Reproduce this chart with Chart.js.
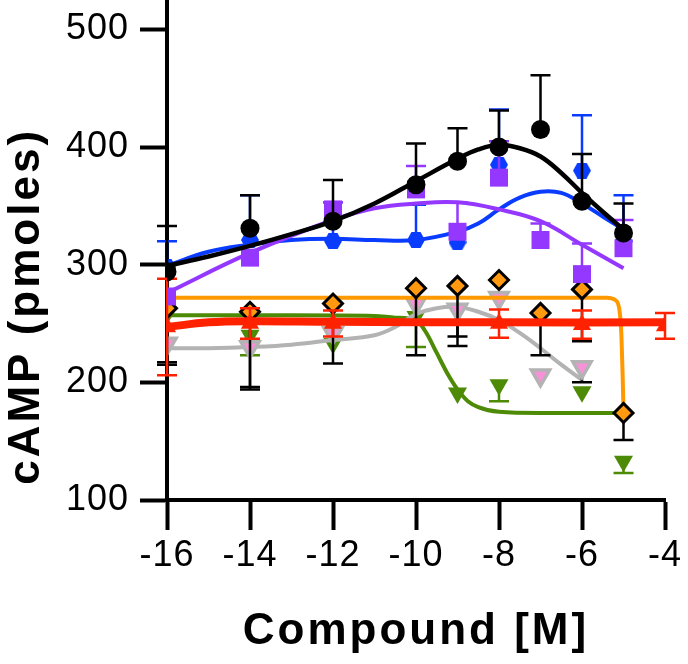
<!DOCTYPE html>
<html>
<head>
<meta charset="utf-8">
<script src="https://cdn.jsdelivr.net/npm/chart.js@4"></script>
<style>
  html, body { margin: 0; padding: 0; background: #fff; }
  #wrap { width: 688px; height: 664px; }
</style>
</head>
<body>
<div id="wrap"><canvas id="myChart" width="688" height="664"></canvas></div>
<script>
// measured points (log M vs cAMP)
var blackX = [-16, -14, -12, -10, -9, -8, -7, -6, -5];
var blackY = [294, 331, 337, 368, 388, 400, 415, 354, 327];
var blackErr = [39, 28, 35, 35, 28, 31, 46, 40, 25];

var blueX = [-16, -14, -12, -10, -9, -8, -6, -5];
var blueY = [298, 321, 320, 321, 319, 385, 380, 320];
var blueErr = [22, 38, 33, 30, 0, 47, 47, 39];

var purpleX = [-16, -14, -12, -10, -9, -8, -7, -6, -5];
var purpleY = [273, 306, 347, 364, 328, 374, 321, 292, 314];
var purpleErr = [0, 0, 6, 20, 25, 31, 14, 26, 24];

var diamondX = [-16, -14, -12, -10, -9, -8, -7, -6, -5];
var diamondY = [263, 260, 267, 280, 282, 287, 259, 279, 174];
var diamondErr = [48, 66, 51, 57, 51, 0, 36, 44, 23];

var grayX = [-16, -14, -12, -10, -9, -8, -7, -6];
var grayY = [233, 230, 242, 267, 262, 272, 206, 213];
var grayErr = [16, 34, 0, 0, 23, 0, 0, 13];

var greenX = [-16, -14, -12, -10, -9, -8, -6, -5];
var greenY = [258, 240, 233, 256, 191, 198, 192, 133];
var greenErr = [0, 17, 0, 26, 0, 14, 0, 10];

var redX = [-16, -14, -12, -8, -6, -4];
var redY = [247, 250, 250, 250, 249, 248];
var redErr = [41, 13, 11, 12, 12, 11];

// fitted curves
var blackCurveX = [-16, -15, -14, -13, -12, -11, -10, -9, -8.5, -8, -7.5, -7, -6.5, -6, -5.5, -5];
var blackCurveY = [299, 307, 316, 326, 337, 352, 371, 390, 398, 402, 399, 392, 378, 361, 345, 330];
var blueCurveX = [-16, -15, -14, -13, -12, -11, -10, -9, -8.5, -8, -7.5, -7, -6.5, -6, -5.5, -5];
var blueCurveY = [299, 311, 317, 321, 322, 321, 321, 328, 335, 347, 357, 362, 361, 352, 341, 330];
var purpleCurveX = [-16, -14, -12, -11, -10, -9, -8, -7, -6, -5];
var purpleCurveY = [276, 310, 338, 348, 352, 353, 347, 337, 317, 297];
var orangeCurveX = [-16, -12, -8, -6, -5.4, -5.2, -5.1, -5.05, -5.02, -5];
var orangeCurveY = [272, 272, 272, 272, 272, 270, 262, 240, 205, 175];
var greenCurveX = [-16, -13, -11, -10.5, -10, -9.75, -9.5, -9.25, -9, -8.75, -8.5, -8, -7, -6, -5];
var greenCurveY = [257, 257, 256.5, 255, 253, 242, 225, 208, 194, 184, 179, 175, 174, 174, 174];
var grayCurveX = [-16, -15, -14, -13, -12, -11, -10.5, -10, -9.5, -9, -8.5, -8, -7.5, -7, -6.5, -6];
var grayCurveY = [229, 229, 230, 232, 236, 240, 247, 258, 263, 264, 260, 253, 242, 229, 215, 202];
var redCurveX = [-16, -15, -14, -12, -8, -4];
var redCurveY = [247, 251, 252, 251.5, 251, 251];

var xTicks = [-16, -14, -12, -10, -8, -6, -4];
var yTicks = [100, 200, 300, 400, 500];

function pts(xs, ys) {
	return xs.map(function(x, i) { return {x: x, y: ys[i]}; });
}

function hexagon(color) {
	var c = document.createElement('canvas');
	c.width = 18; c.height = 16;
	var g = c.getContext('2d');
	g.fillStyle = color;
	g.beginPath();
	g.moveTo(0, 8); g.lineTo(4.5, 0); g.lineTo(13.5, 0);
	g.lineTo(18, 8); g.lineTo(13.5, 16); g.lineTo(4.5, 16);
	g.closePath();
	g.fill();
	return c;
}

function curve(xs, ys, color, width, order, mode) {
	return {
		data: pts(xs, ys), showLine: true, pointRadius: 0,
		borderColor: color, borderWidth: width, tension: 0.4,
		cubicInterpolationMode: mode || 'default', order: order
	};
}

function marks(xs, ys, opts, order) {
	var ds = {data: pts(xs, ys), showLine: false, order: order};
	for (var k in opts) ds[k] = opts[k];
	return ds;
}

var errorBars = {
	id: 'errorBars',
	beforeDatasetDraw: function(chart, args) {
		var ds = chart.data.datasets[args.index];
		if (!ds.errUp && !ds.errDown) return;
		var ctx = chart.ctx, xs = chart.scales.x, ys = chart.scales.y;
		ctx.save();
		ctx.strokeStyle = ds.errColor;
		ctx.lineWidth = 2.5;
		ds.data.forEach(function(p, i) {
			var px = xs.getPixelForValue(p.x);
			var py0 = ys.getPixelForValue(p.y);
			[[ds.errUp ? ds.errUp[i] : 0, 1], [ds.errDown ? ds.errDown[i] : 0, -1]].forEach(function(e) {
				if (!e[0]) return;
				var py1 = ys.getPixelForValue(p.y + e[1] * e[0]);
				ctx.beginPath();
				ctx.moveTo(px, py0); ctx.lineTo(px, py1);
				ctx.moveTo(px - 10, py1); ctx.lineTo(px + 10, py1);
				ctx.stroke();
			});
		});
		ctx.restore();
	}
};

// tick labels get a little tracking, titles a bit more (the original font is wide)
var spacing = {
	id: 'spacing',
	beforeDraw: function(chart) { chart.ctx.letterSpacing = '1px'; }
};

function wideTitle(s) {
	if (s._wide) return;
	s._wide = true;
	var orig = s.drawTitle;
	s.drawTitle = function() {
		this.ctx.save();
		this.ctx.letterSpacing = '3px';
		orig.apply(this, arguments);
		this.ctx.restore();
	};
}

var font = "'Liberation Sans', Arial, sans-serif";

var datasets = [
	marks(blackX, blackY, {pointStyle: 'circle', pointRadius: 9.5, backgroundColor: '#000', borderColor: '#000', borderWidth: 0,
		errUp: blackErr, errColor: '#000'}, 1),
	curve(blackCurveX, blackCurveY, '#000', 4.5, 2),
	marks(purpleX, purpleY, {pointStyle: 'rect', pointRadius: 12.7, backgroundColor: '#9438ff', borderWidth: 0,
		errUp: purpleErr, errColor: '#9438ff'}, 3),
	curve(purpleCurveX, purpleCurveY, '#9438ff', 4, 4),
	marks(blueX, blueY, {pointStyle: hexagon('#0a3cff'), pointRadius: 9,
		errUp: blueErr, errColor: '#0a3cff'}, 5),
	curve(blueCurveX, blueCurveY, '#0a3cff', 4, 6),
	marks(redX, redY, {pointStyle: 'triangle', pointRadius: 10.5, backgroundColor: '#ff2200', borderWidth: 0,
		errUp: redErr, errDown: redErr, errColor: '#ff2200'}, 7),
	curve(redCurveX, redCurveY, '#ff2200', 8, 8),
	marks(diamondX, diamondY, {pointStyle: 'rectRot', pointRadius: 9.5, backgroundColor: '#ff9a10', borderColor: '#000', borderWidth: 3,
		errDown: diamondErr, errColor: '#000'}, 9),
	curve(orangeCurveX, orangeCurveY, '#ff9900', 4, 10, 'monotone'),
	marks(grayX, grayY, {pointStyle: 'triangle', rotation: 180, pointRadius: 10.5, backgroundColor: '#f792d8', borderColor: '#b3b3b3', borderWidth: 3.5,
		errDown: grayErr, errColor: '#000'}, 11),
	curve(grayCurveX, grayCurveY, '#b3b3b3', 4, 12),
	marks(greenX, greenY, {pointStyle: 'triangle', rotation: 180, pointRadius: 11, backgroundColor: '#4d8a06', borderWidth: 0,
		errDown: greenErr, errColor: '#4d8a06'}, 13),
	curve(greenCurveX, greenCurveY, '#4d8a06', 4, 14, 'monotone')
];

new Chart(document.getElementById('myChart'), {
	type: 'scatter',
	data: {datasets: datasets},
	options: {
		responsive: false,
		animation: false,
		events: [],
		layout: {autoPadding: false, padding: {left: 0, right: 23, top: 0, bottom: 0}},
		plugins: {legend: {display: false}, tooltip: {enabled: false}},
		scales: {
			x: {
				type: 'linear', min: -16, max: -4,
				afterBuildTicks: function(s) { s.ticks = xTicks.map(function(v) { return {value: v}; }); },
				afterFit: function(s) { s.height = 164; s.paddingLeft = 0; s.paddingRight = 0; wideTitle(s); },
				border: {color: '#000', width: 4},
				grid: {drawOnChartArea: false, drawTicks: true, tickLength: 30, tickWidth: 4, tickColor: '#000'},
				ticks: {color: '#000', padding: 4, maxRotation: 0, autoSkip: false, font: {family: font, size: 36}},
				title: {display: true, text: 'Compound [M]', color: '#000', padding: {top: 0, bottom: 6},
					font: {family: font, size: 44, weight: 'bold'}}
			},
			y: {
				type: 'linear', min: 100, max: 525,
				afterBuildTicks: function(s) { s.ticks = yTicks.map(function(v) { return {value: v}; }); },
				afterFit: function(s) { s.width = 167; s.paddingTop = 0; s.paddingBottom = 0; wideTitle(s); },
				border: {color: '#000', width: 4},
				grid: {drawOnChartArea: false, drawTicks: true, tickLength: 27, tickWidth: 4, tickColor: '#000'},
				ticks: {color: '#000', padding: 11, font: {family: font, size: 36}},
				title: {display: true, text: ' cAMP (pmoles)', align: 'start', color: '#000', padding: {top: 0, bottom: 0},
					font: {family: font, size: 44, weight: 'bold'}}
			}
		}
	},
	plugins: [spacing, errorBars]
});
</script>
</body>
</html>
